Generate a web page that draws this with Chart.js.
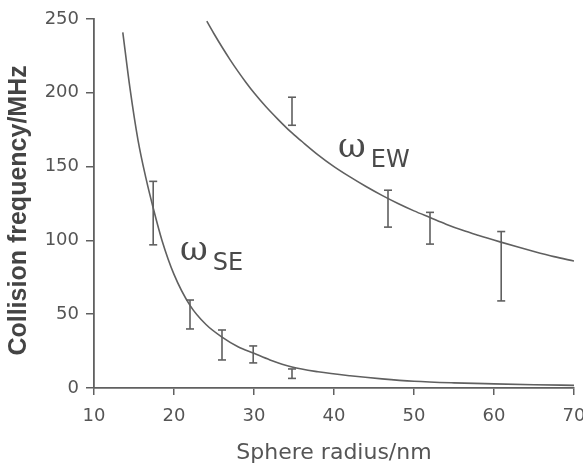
<!DOCTYPE html>
<html>
<head>
<meta charset="utf-8">
<script src="https://cdn.jsdelivr.net/npm/chart.js@4/dist/chart.umd.min.js"></script>
<style>
html,body{margin:0;padding:0;background:#fff;}
#wrap{width:583px;height:466px;position:relative;}
</style>
</head>
<body>
<div id="wrap"><canvas id="c" width="583" height="466"></canvas></div>
<script>
// Axis ticks
const xTicks = [10, 20, 30, 40, 50, 60, 70];
const yTicks = [0, 50, 100, 150, 200, 250];

// Fitted curve ω_SE
const seCurveX = [13.6, 14.5, 15.5, 16.5, 17.4, 18.5, 20, 22, 24, 26, 28, 30, 32, 34.75, 38, 42, 46, 50, 55, 60, 65, 70];
const seCurveY = [241, 203, 168, 142, 122, 100, 77, 56, 43, 34.5, 28, 23.5, 19, 14.2, 11, 8.3, 6.2, 4.6, 3.5, 2.8, 2.2, 1.8];

// Fitted curve ω_EW
const ewCurveX = [24.1, 25, 26, 27, 28, 29, 30, 31.5, 33, 34.5, 36, 38, 40, 42, 44, 46, 48, 50, 52, 54, 56, 58, 60.75, 63, 65, 67.5, 70];
const ewCurveY = [248.5, 240, 231, 222.5, 214.5, 207, 200, 190.5, 182, 174, 167, 158, 150, 143, 136.5, 130.5, 125, 120, 115.5, 111, 107, 103.5, 99, 95.5, 92.5, 89, 86];

// Error bars ω_SE
const seBarX = [17.4, 22, 26, 29.9, 34.75];
const seBarLo = [97, 40, 19, 17, 6.5];
const seBarHi = [140, 59.6, 39.3, 28.5, 12.9];

// Error bars ω_EW
const ewBarX = [34.75, 46.75, 52, 60.9];
const ewBarLo = [178, 109, 97.5, 59];
const ewBarHi = [197, 134, 119, 106];

const INK = '#606060';
const TXT = '#555555';

function curve(xs, ys) {
  return {
    type: 'scatter', showLine: true,
    data: xs.map((x, i) => ({x: x, y: ys[i]})),
    borderColor: INK, borderWidth: 1.6, pointRadius: 0,
    cubicInterpolationMode: 'monotone', fill: false
  };
}
function bars(xs, lo, hi) {
  return xs.map((x, i) => ({
    type: 'scatter', showLine: true,
    data: [{x: x, y: lo[i]}, {x: x, y: hi[i]}],
    borderColor: INK, borderWidth: 1.6,
    pointStyle: 'line', pointRadius: 4, pointBorderWidth: 1.6,
    pointBorderColor: INK, pointHoverRadius: 4
  }));
}

const datasets = [curve(seCurveX, seCurveY), curve(ewCurveX, ewCurveY)]
  .concat(bars(seBarX, seBarLo, seBarHi))
  .concat(bars(ewBarX, ewBarLo, ewBarHi));

// Curve labels anchored in data units (omega baseline-left)
const curveLabels = [
  {x: 20.75, y: 86.7, sub: 'SE'},
  {x: 40.5, y: 156.5, sub: 'EW'}
];

const labelPlugin = {
  id: 'omegaLabels',
  afterDatasetsDraw(chart) {
    const ctx = chart.ctx;
    const xs = chart.scales.x, ys = chart.scales.y;
    ctx.save();
    ctx.fillStyle = '#4a4a4a';
    ctx.textBaseline = 'alphabetic';
    ctx.textAlign = 'left';
    curveLabels.forEach(l => {
      const px = xs.getPixelForValue(l.x);
      const py = ys.getPixelForValue(l.y);
      ctx.font = '34px "DejaVu Serif"';
      ctx.fillText('\u03c9', px, py);
      const w = ctx.measureText('\u03c9').width;
      ctx.font = '24px "DejaVu Sans"';
      ctx.fillText(l.sub, px + w + 5, py + 10);
    });
    ctx.restore();
  }
};

new Chart(document.getElementById('c'), {
  type: 'scatter',
  data: {datasets: datasets},
  options: {
    responsive: false, animation: false,
    layout: {padding: {top: 19, right: 0, bottom: 0, left: 0}},
    plugins: {legend: {display: false}, tooltip: {enabled: false}},
    scales: {
      x: {
        type: 'linear', min: 10, max: 70,
        afterBuildTicks: s => { s.ticks = xTicks.map(v => ({value: v})); },
        afterFit: s => { s.height = 78; s.paddingRight = 9; s.paddingLeft = 0; },
        border: {display: true, color: INK, width: 1.8},
        grid: {drawOnChartArea: false, drawTicks: true, tickLength: 7, color: INK, lineWidth: 1.5},
        ticks: {color: TXT, font: {family: 'DejaVu Sans', size: 18}, padding: 11, maxRotation: 0},
        title: {display: true, text: 'Sphere radius/nm', color: TXT,
          font: {family: 'DejaVu Sans', size: 22}, padding: {top: 4, bottom: 0}}
      },
      y: {
        type: 'linear', min: 0, max: 250,
        afterBuildTicks: s => { s.ticks = yTicks.map(v => ({value: v})); },
        afterFit: s => { s.width = 94; },
        border: {display: true, color: INK, width: 1.8},
        grid: {drawOnChartArea: false, drawTicks: true, tickLength: 8, color: INK, lineWidth: 1.5},
        ticks: {color: TXT, font: {family: 'DejaVu Sans', size: 18}, padding: 7},
        title: {display: true, text: 'Collision frequency/MHz  ', color: '#444444',
          font: {family: 'Liberation Sans', size: 25, weight: 'bold'}, padding: {top: 4, bottom: 4}}
      }
    }
  },
  plugins: [labelPlugin]
});
</script>
</body>
</html>
